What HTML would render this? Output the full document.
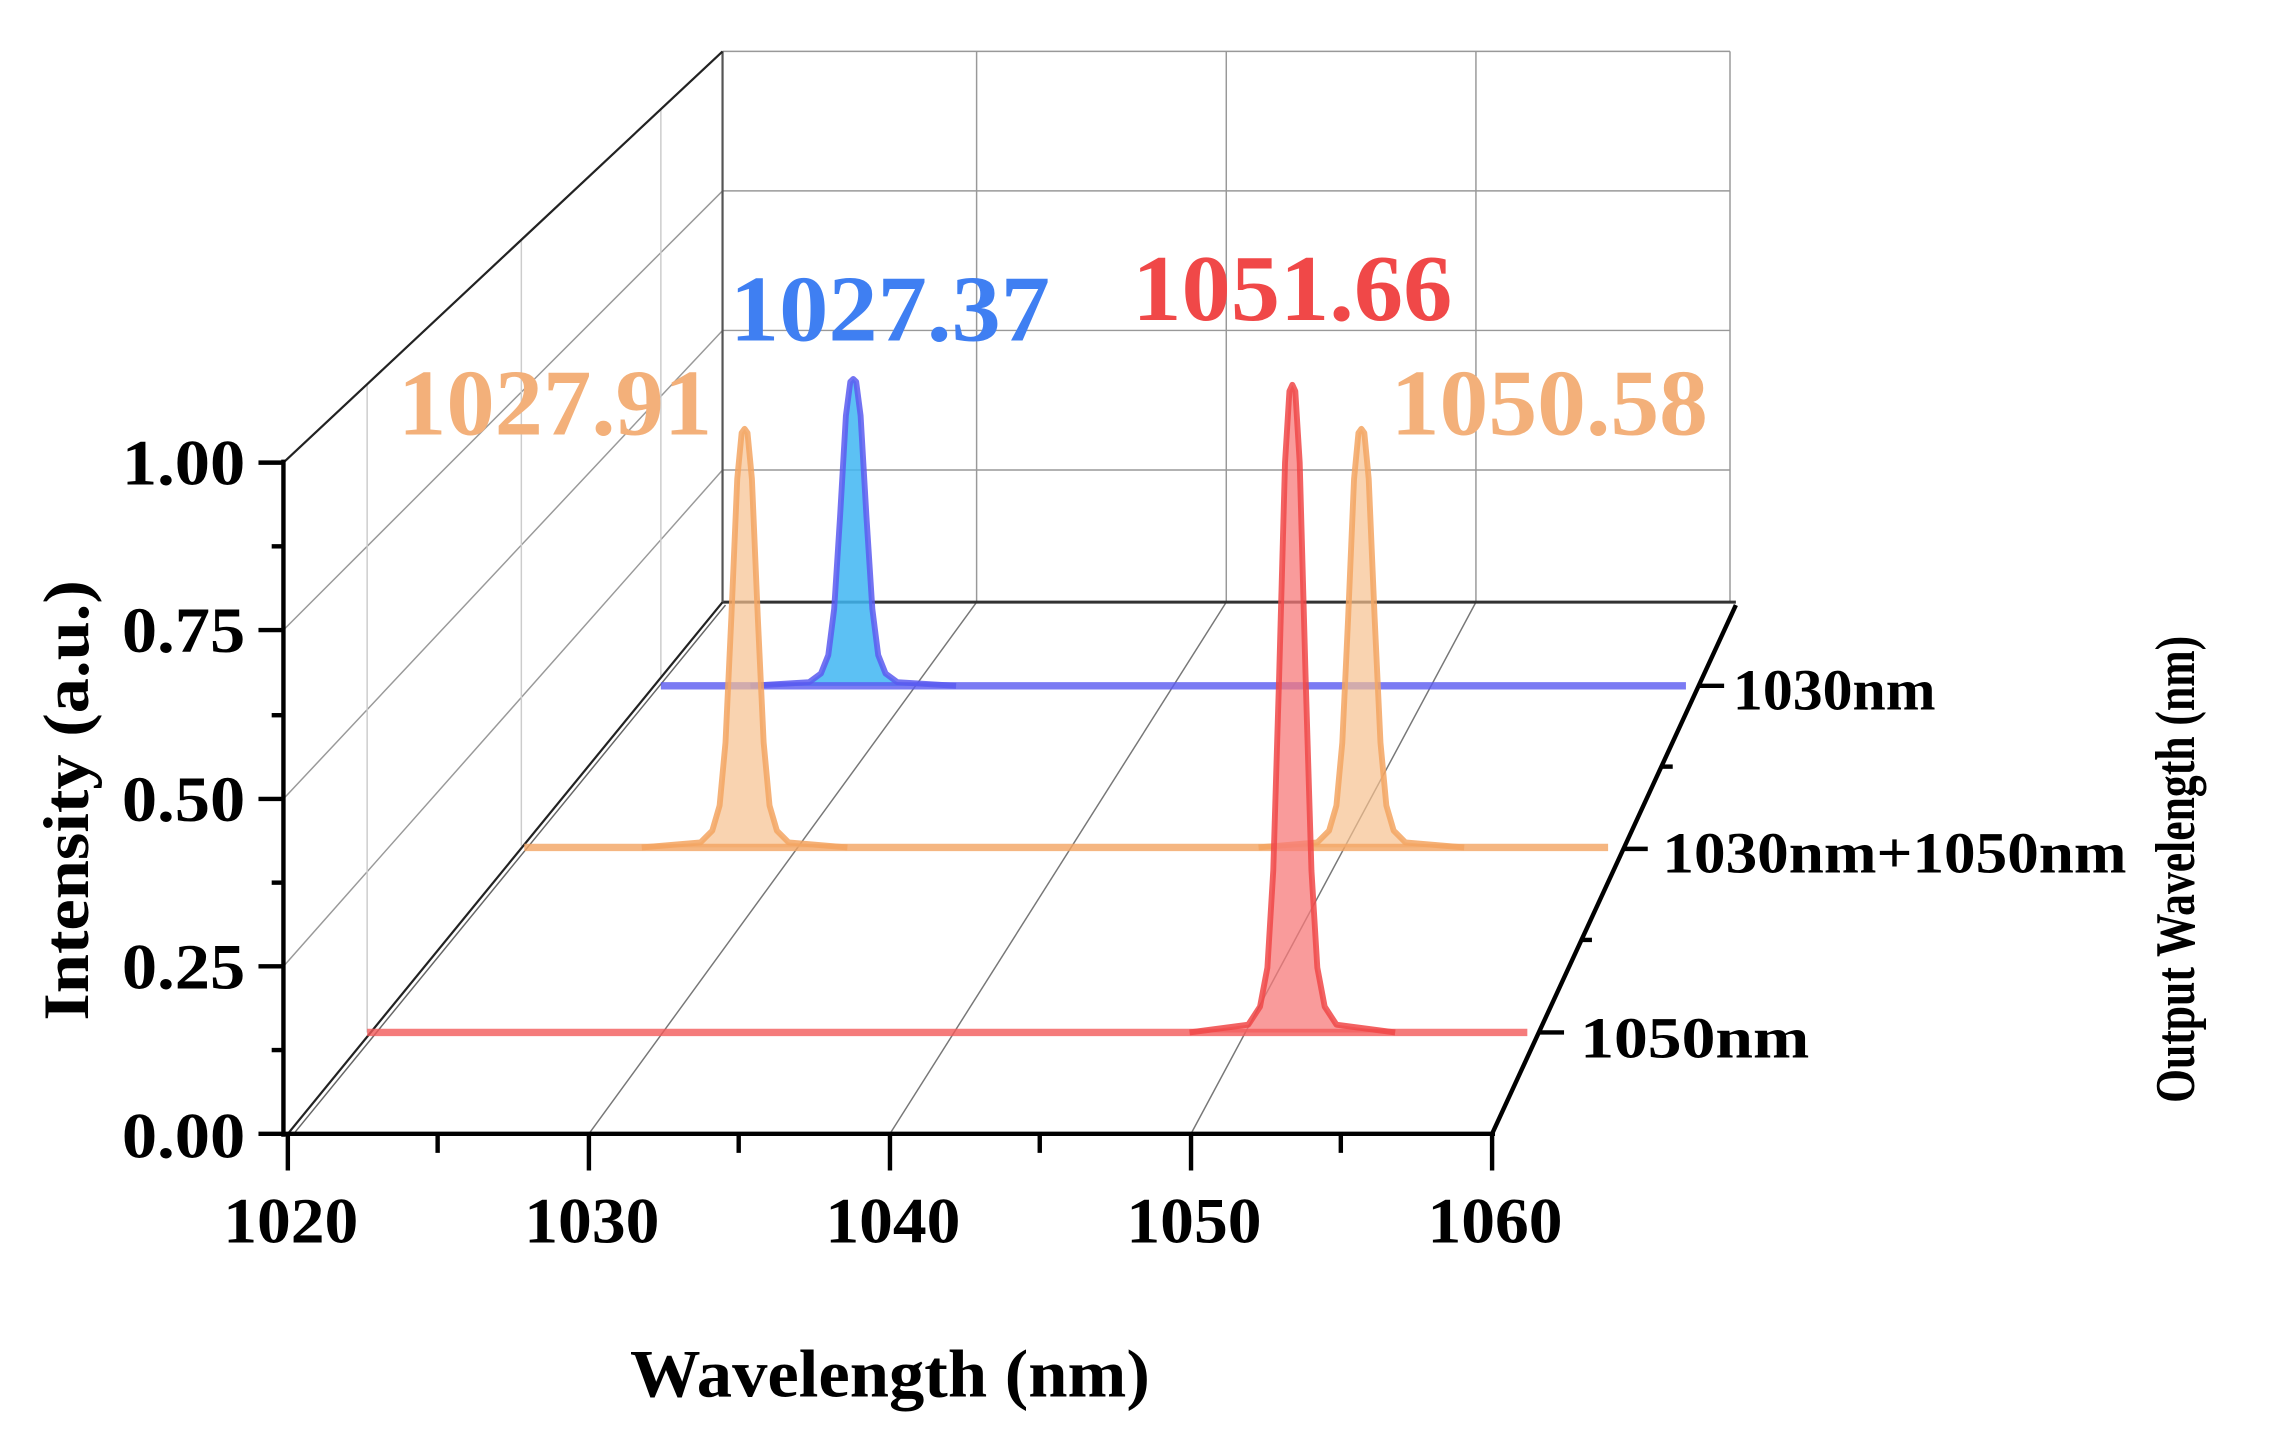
<!DOCTYPE html>
<html><head><meta charset="utf-8"><style>
html,body{margin:0;padding:0;background:#fff;}
svg{display:block;}
text{font-family:"Liberation Serif",serif;font-weight:bold;}
</style></head><body>
<svg width="2291" height="1451" viewBox="0 0 1560 988" preserveAspectRatio="none" xmlns="http://www.w3.org/2000/svg">
<!-- back wall grid -->
<g stroke="#999" stroke-width="1" fill="none">
<line x1="492" y1="35" x2="1178" y2="35"/>
<line x1="492" y1="130" x2="1178" y2="130"/>
<line x1="492" y1="225" x2="1178" y2="225"/>
<line x1="492" y1="320" x2="1178" y2="320"/>
<line x1="665" y1="35" x2="665" y2="410"/>
<line x1="835" y1="35" x2="835" y2="410"/>
<line x1="1005" y1="35" x2="1005" y2="410"/>
<line x1="1178" y1="35" x2="1178" y2="410"/>
<line x1="193" y1="658" x2="492" y2="320"/>
<line x1="193" y1="544" x2="492" y2="225"/>
<line x1="193" y1="429" x2="492" y2="130"/>
<line x1="250" y1="703" x2="250" y2="262" stroke="#ccc"/>
<line x1="355" y1="576" x2="355" y2="163" stroke="#ccc"/>
<line x1="450" y1="461" x2="450" y2="74" stroke="#ccc"/>
<line x1="401" y1="772" x2="665" y2="410" stroke="#777"/>
<line x1="606" y1="772" x2="835" y2="410" stroke="#777"/>
<line x1="811" y1="772" x2="1005" y2="410" stroke="#777"/>
<line x1="492" y1="410" x2="1182" y2="410" stroke="#333" stroke-width="2"/>
</g>
<line x1="492" y1="35" x2="492" y2="410" stroke="#555" stroke-width="1.5"/>
<line x1="193" y1="315" x2="492" y2="35" stroke="#222" stroke-width="1.5"/>
<line x1="196" y1="772" x2="492" y2="410" stroke="#222" stroke-width="1.5"/>
<line x1="200" y1="772" x2="494" y2="412" stroke="#666" stroke-width="1"/>

<!-- blue -->
<polygon points="511,467 551,464.5 559,458.6 564,446.1 568,414.7 572,352 576,283 579,260 581,258 583,260 586,283 590,352 594,414.7 598,446.1 603,458.6 611,464.5 651,467" fill="#3fb6f2" fill-opacity="0.85"/>
<line x1="450" y1="467" x2="1148" y2="467" stroke="#5a5af0" stroke-opacity="0.8" stroke-width="5"/>
<polyline points="511,467 551,464.5 559,458.6 564,446.1 568,414.7 572,352 576,283 579,260 581,258 583,260 586,283 590,352 594,414.7 598,446.1 603,458.6 611,464.5 651,467" fill="none" stroke="#5a5af0" stroke-opacity="0.85" stroke-width="4" stroke-linejoin="round"/>

<!-- orange -->
<polygon points="437,577 477,573.6 485,565.6 490,548.5 494,505.7 498,420.2 502,326.2 505,294.8 507,292 509,294.8 512,326.2 516,420.2 520,505.7 524,548.5 529,565.6 537,573.6 577,577" fill="#f6c08e" fill-opacity="0.7"/>
<polygon points="857,577 897,573.6 905,565.6 910,548.5 914,505.7 918,420.2 922,326.2 925,294.8 927,292 929,294.8 932,326.2 936,420.2 940,505.7 944,548.5 949,565.6 957,573.6 997,577" fill="#f6c08e" fill-opacity="0.7"/>
<line x1="357" y1="577" x2="1095" y2="577" stroke="#f3a461" stroke-opacity="0.8" stroke-width="5"/>
<polyline points="437,577 477,573.6 485,565.6 490,548.5 494,505.7 498,420.2 502,326.2 505,294.8 507,292 509,294.8 512,326.2 516,420.2 520,505.7 524,548.5 529,565.6 537,573.6 577,577" fill="none" stroke="#f3a461" stroke-opacity="0.85" stroke-width="4" stroke-linejoin="round"/>
<polyline points="857,577 897,573.6 905,565.6 910,548.5 914,505.7 918,420.2 922,326.2 925,294.8 927,292 929,294.8 932,326.2 936,420.2 940,505.7 944,548.5 949,565.6 957,573.6 997,577" fill="none" stroke="#f3a461" stroke-opacity="0.85" stroke-width="4" stroke-linejoin="round"/>

<!-- red -->
<polygon points="810,703 850,697.7 858,685.4 863,658.9 867,592.7 871,460.4 875,315 878,266.4 880,262 882,266.4 885,315 889,460.4 893,592.7 897,658.9 902,685.4 910,697.7 950,703" fill="#f77a7a" fill-opacity="0.75"/>
<line x1="250" y1="703" x2="1040" y2="703" stroke="#f25a5a" stroke-opacity="0.8" stroke-width="5"/>
<polyline points="810,703 850,697.7 858,685.4 863,658.9 867,592.7 871,460.4 875,315 878,266.4 880,262 882,266.4 885,315 889,460.4 893,592.7 897,658.9 902,685.4 910,697.7 950,703" fill="none" stroke="#f04848" stroke-opacity="0.85" stroke-width="4" stroke-linejoin="round"/>

<!-- axes -->
<g stroke="#000" stroke-width="3" fill="none">
<line x1="193" y1="313" x2="193" y2="774"/>
<line x1="176" y1="772" x2="1018" y2="772"/>
<line x1="1016" y1="772" x2="1182" y2="412"/>
<line x1="176" y1="315" x2="193" y2="315"/>
<line x1="176" y1="429" x2="193" y2="429"/>
<line x1="176" y1="544" x2="193" y2="544"/>
<line x1="176" y1="658" x2="193" y2="658"/>
<line x1="185" y1="372" x2="193" y2="372"/>
<line x1="185" y1="487" x2="193" y2="487"/>
<line x1="185" y1="601" x2="193" y2="601"/>
<line x1="185" y1="715" x2="193" y2="715"/>
<line x1="196" y1="772" x2="196" y2="797"/>
<line x1="401" y1="772" x2="401" y2="797"/>
<line x1="606" y1="772" x2="606" y2="797"/>
<line x1="811" y1="772" x2="811" y2="797"/>
<line x1="1016" y1="772" x2="1016" y2="797"/>
<line x1="298" y1="772" x2="298" y2="785"/>
<line x1="503" y1="772" x2="503" y2="785"/>
<line x1="708" y1="772" x2="708" y2="785"/>
<line x1="913" y1="772" x2="913" y2="785"/>
<line x1="1048" y1="703" x2="1065" y2="703"/>
<line x1="1105" y1="578" x2="1122" y2="578"/>
<line x1="1157" y1="467" x2="1174" y2="467"/>
<line x1="1076" y1="640" x2="1084" y2="640"/>
<line x1="1131" y1="522" x2="1139" y2="522"/>
</g>

<g font-size="44" text-anchor="end" fill="#000">
<text x="167" y="330" textLength="84" lengthAdjust="spacingAndGlyphs">1.00</text>
<text x="167" y="444" textLength="84" lengthAdjust="spacingAndGlyphs">0.75</text>
<text x="167" y="559" textLength="84" lengthAdjust="spacingAndGlyphs">0.50</text>
<text x="167" y="673" textLength="84" lengthAdjust="spacingAndGlyphs">0.25</text>
<text x="167" y="788" textLength="84" lengthAdjust="spacingAndGlyphs">0.00</text>
</g>
<g font-size="44" text-anchor="middle" fill="#000">
<text x="198" y="846" textLength="92" lengthAdjust="spacingAndGlyphs">1020</text>
<text x="403" y="846" textLength="92" lengthAdjust="spacingAndGlyphs">1030</text>
<text x="608" y="846" textLength="92" lengthAdjust="spacingAndGlyphs">1040</text>
<text x="813" y="846" textLength="92" lengthAdjust="spacingAndGlyphs">1050</text>
<text x="1018" y="846" textLength="92" lengthAdjust="spacingAndGlyphs">1060</text>
</g>
<g font-size="40" fill="#000">
<text x="1180" y="483" textLength="138" lengthAdjust="spacingAndGlyphs">1030nm</text>
<text x="1132" y="594" textLength="316" lengthAdjust="spacingAndGlyphs">1030nm+1050nm</text>
<text x="1076" y="720" textLength="156" lengthAdjust="spacingAndGlyphs">1050nm</text>
</g>
<text x="606" y="951" font-size="46" text-anchor="middle" textLength="354" lengthAdjust="spacingAndGlyphs">Wavelength (nm)</text>
<text transform="translate(60,545) rotate(-90)" font-size="44" text-anchor="middle" textLength="300" lengthAdjust="spacingAndGlyphs">Intensity (a.u.)</text>
<text transform="translate(1494,592) rotate(-90)" font-size="38" text-anchor="middle" textLength="318" lengthAdjust="spacingAndGlyphs">Output Wavelength (nm)</text>

<g font-size="64" text-anchor="middle">
<text x="606" y="232" fill="#3f7ff2" textLength="218" lengthAdjust="spacingAndGlyphs">1027.37</text>
<text x="880" y="218" fill="#f04848" textLength="218" lengthAdjust="spacingAndGlyphs">1051.66</text>
<text x="378" y="296" fill="#f3b07a" textLength="214" lengthAdjust="spacingAndGlyphs">1027.91</text>
<text x="1055" y="296" fill="#f3b07a" textLength="216" lengthAdjust="spacingAndGlyphs">1050.58</text>
</g>
</svg>
</body></html>
